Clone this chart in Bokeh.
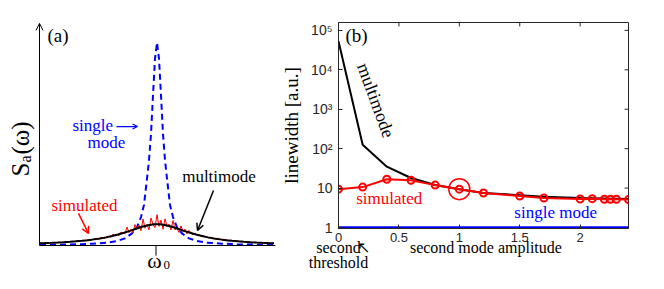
from bokeh.plotting import figure
from bokeh.layouts import row
from bokeh.models import Range1d, Label, Arrow, OpenHead, FixedTicker, LinearAxis
from bokeh.embed import file_html
from bokeh.resources import INLINE

# ---------------- panel (a) data: spectra vs (omega - omega0) ----------------
w_single = [-117, -100, -80, -65, -50, -40, -32, -25, -20, -16, -13, -10, -8, -6, -4, -2, 0,
            2, 4, 6, 8, 10, 13, 16, 20, 25, 32, 40, 50, 65, 80, 100, 117]
s_single = [0.003, 0.004, 0.006, 0.009, 0.014, 0.022, 0.035, 0.06, 0.09, 0.14, 0.20, 0.33, 0.42, 0.55, 0.74, 0.92, 1.0,
            0.92, 0.74, 0.55, 0.42, 0.33, 0.20, 0.14, 0.09, 0.06, 0.035, 0.022, 0.014, 0.009, 0.006, 0.004, 0.003]

w_multi = [-117, -111, -105, -99, -93, -87, -81, -75, -69, -63, -57, -51, -45, -39, -33, -27, -21, -15, -9, -3,
           3, 9, 15, 21, 27, 33, 39, 45, 51, 57, 63, 69, 75, 81, 87, 93, 99, 105, 111, 117]
s_multi = [0.0110, 0.0121, 0.0133, 0.0148, 0.0164, 0.0183, 0.0205, 0.0232, 0.0263, 0.0302, 0.0347, 0.0400,
           0.0465, 0.0539, 0.0625, 0.0722, 0.0823, 0.0920, 0.1000, 0.1044,
           0.1044, 0.1000, 0.0920, 0.0823, 0.0722, 0.0625, 0.0539, 0.0465, 0.0400, 0.0347, 0.0302, 0.0263,
           0.0232, 0.0205, 0.0183, 0.0164, 0.0148, 0.0133, 0.0121, 0.0110]

w_sim = [-117, -114, -111, -108, -105, -102, -99, -96, -93, -90, -87, -84, -81, -78, -75, -72, -69, -66, -63,
         -60, -58, -56, -54, -52, -50, -48, -46, -44, -42, -40, -38, -36, -34, -32, -30, -28, -26, -24, -22,
         -20, -18, -16, -14, -12, -10, -8, -6, -4, -2, 0, 2, 4, 6, 8, 10, 12, 14, 16, 18,
         20, 22, 24, 26, 28, 30, 32, 34, 36, 38, 40, 42, 44, 46, 48, 50, 52, 54, 56, 58, 60,
         63, 66, 69, 72, 75, 78, 81, 84, 87, 90, 93, 96, 99, 102, 105, 108, 111, 114, 117]
s_sim = [0.0115, 0.0108, 0.0130, 0.0119, 0.0141, 0.0128, 0.0160, 0.0146, 0.0172, 0.0160, 0.0199, 0.0181, 0.0222,
         0.0200, 0.0255, 0.0229, 0.0290, 0.0258, 0.0335,
         0.0342, 0.0315, 0.0408, 0.0361, 0.0344, 0.0454, 0.0443, 0.0412, 0.0562, 0.0476, 0.0563, 0.0479, 0.0657,
         0.0609, 0.0586, 0.0907, 0.0635, 0.0797, 0.0633, 0.1032,
         0.0798, 0.1004, 0.0724, 0.1309, 0.0847, 0.1037, 0.0768, 0.1356, 0.1040, 0.0879, 0.1523, 0.0942, 0.1248,
         0.0801, 0.1313, 0.0939, 0.1059, 0.0767, 0.1231, 0.0768,
         0.0857, 0.0645, 0.0965, 0.0679, 0.0811, 0.0571, 0.0748, 0.0602, 0.0521, 0.0618, 0.0494, 0.0536, 0.0436,
         0.0513, 0.0415, 0.0430, 0.0363, 0.0408, 0.0338, 0.0349, 0.0313,
         0.0335, 0.0255, 0.0295, 0.0225, 0.0255, 0.0198, 0.0225, 0.0175, 0.0200, 0.0157, 0.0178, 0.0142, 0.0160,
         0.0128, 0.0145, 0.0117, 0.0130, 0.0106, 0.0118]

# ---------------- panel (b) data: linewidth vs second mode amplitude ----------------
amp_multi = [0, 0.2, 0.4, 0.6, 0.8, 1.0, 1.2, 1.5, 1.7, 2.0, 2.4]
lw_multi = [5.3e4, 126, 35, 18, 12, 9.4, 7.5, 6.6, 6.0, 5.6, 5.3]
amp_sim = [0, 0.2, 0.4, 0.6, 0.8, 1.0, 1.2, 1.5, 1.7, 2.0, 2.1, 2.2, 2.25, 2.3, 2.4]
lw_sim = [9.4, 10.6, 16.8, 15.8, 11.9, 9.4, 7.5, 6.3, 5.6, 5.3, 5.4, 5.2, 5.2, 5.2, 5.1]
amp_single = [0, 2.4]
lw_single = [1.0, 1.0]
highlight_amp = [1.0]
highlight_lw = [9.4]
x_ticks = [0, 0.5, 1, 1.5, 2]
y_ticks = [1, 10, 100, 1000, 10000, 100000]
y_tick_labels = ["1", "10", "10\u00b2", "10\u00b3", "10\u2074", "10\u2075"]
note_ticks = [0, 0.21, 1.22]
note_labels = ["second\nthreshold", "\u2196", "second mode amplitude"]

RED = "#ff0000"
BLUE = "#0000ff"
SERIF = "Liberation Serif"
SANS = "Liberation Sans"
GRAY = "#262626"


def no_align(p):
    try:
        p.frame_align = False
    except Exception:
        pass


def lab(p, x, y, t, size, color="black", align="left", baseline="middle", font=SERIF, angle=0):
    p.add_layout(Label(x=x, y=y, text=t, text_font=font, text_font_size=size, text_color=color,
                       text_align=align, text_baseline=baseline, angle=angle))


# =============== panel (a) ===============
pa = figure(width=277, height=273, output_backend="svg", toolbar_location=None, title=None,
            x_range=Range1d(-156.5, 120.5), y_range=Range1d(-28 / 203, 245 / 203),
            x_axis_location=None, y_axis_location=None, min_border=0)
no_align(pa)
pa.outline_line_color = None
pa.xgrid.visible = False
pa.ygrid.visible = False

pa.line(w_single, s_single, line_color=BLUE, line_width=2, line_dash="6 4")
pa.line(w_sim, s_sim, line_color=RED, line_width=1)
pa.line(w_multi, s_multi, line_color="black", line_width=2)

# axes with arrow
pa.add_layout(Arrow(end=OpenHead(size=7, line_color="black", line_width=1), x_start=-117.5, y_start=0,
                    x_end=-117.5, y_end=1.094, line_color="black", line_width=1))
pa.segment(x0=[-117.5], y0=[0], x1=[118.5], y1=[0], line_color="black", line_width=1)
pa.segment(x0=[-1], y0=[0], x1=[-1], y1=[-0.05], line_color="black", line_width=1)

lab(pa, -2.5, -0.075, "\u03c9", "22px", align="center", baseline="middle")
lab(pa, 6.5, -0.095, "0", "13px", baseline="middle")
lab(pa, -109.5, 1.034, "(a)", "19px")
# rotated S_a(omega)
lab(pa, -136.5, (245 - 176) / 203, "S", "25px", baseline="alphabetic", angle=1.5708)
lab(pa, -131.5, (245 - 162) / 203, "a", "16px", baseline="alphabetic", angle=1.5708)
lab(pa, -136.5, (245 - 154) / 203, "(\u03c9)", "25px", baseline="alphabetic", angle=1.5708)

lab(pa, -84.5, 0.591, "single", "17px", color=BLUE)
lab(pa, -50.5, 0.507, "mode", "17px", color=BLUE, align="center")
pa.add_layout(Arrow(end=OpenHead(size=5, line_color=BLUE, line_width=1.2), x_start=-40.5, y_start=0.586,
                    x_end=-19.5, y_end=0.586, line_color=BLUE, line_width=1.2))
lab(pa, 62, 0.34, "multimode", "17px", align="center")
pa.add_layout(Arrow(end=OpenHead(size=7, line_color="black", line_width=1.5), x_start=56.5, y_start=0.271,
                    x_end=40.5, y_end=0.074, line_color="black", line_width=1.5))
lab(pa, -72.5, 0.197, "simulated", "17px", color=RED, align="center")
pa.add_layout(Arrow(end=OpenHead(size=7, line_color=RED, line_width=1.5), x_start=-78.5, y_start=0.158,
                    x_end=-68.5, y_end=0.059, line_color=RED, line_width=1.5))

# =============== panel (b) ===============
ymin, ymax = 10 ** -0.025, 10 ** 5.2
pb = figure(width=371, height=273, output_backend="svg", toolbar_location=None, y_axis_type="log", title=None,
            x_range=Range1d(0, 2.4), y_range=Range1d(ymin, ymax),
            min_border_left=55, min_border_right=20, min_border_top=22, min_border_bottom=44)
no_align(pb)
pb.outline_line_color = GRAY
pb.xgrid.visible = False
pb.ygrid.visible = False

for ax in (pb.xaxis[0], pb.yaxis[0]):
    ax.major_tick_in = 4
    ax.major_tick_out = 0
    ax.minor_tick_line_color = None
    ax.axis_line_color = GRAY
    ax.major_tick_line_color = GRAY
    ax.major_label_text_font = SANS
    ax.major_label_text_color = GRAY

pb.xaxis.ticker = FixedTicker(ticks=x_ticks)
pb.xaxis.major_label_text_font_size = "13px"
pb.xaxis.major_label_text_line_height = 1.0
pb.xaxis.major_label_standoff = 4
pb.yaxis.ticker = FixedTicker(ticks=y_ticks)
pb.yaxis.major_label_overrides = {t: s for t, s in zip(y_ticks, y_tick_labels)}
pb.yaxis.major_label_text_font_size = "14px"
pb.yaxis.major_label_standoff = 6
pb.yaxis.axis_label = "linewidth [a.u.]"
pb.yaxis.axis_label_text_font = SERIF
pb.yaxis.axis_label_text_font_style = "normal"
pb.yaxis.axis_label_text_font_size = "19px"
pb.yaxis.axis_label_text_color = "black"
pb.yaxis.axis_label_standoff = 6

# second row of texts below the x axis: threshold note, its arrow and the axis title
notes = LinearAxis(ticker=FixedTicker(ticks=note_ticks),
                   major_label_overrides={t: s for t, s in zip(note_ticks, note_labels)},
                   axis_line_color=None, major_tick_line_color=None, minor_tick_line_color=None,
                   major_tick_in=0, major_tick_out=0, major_label_standoff=-6,
                   major_label_text_font=SERIF, major_label_text_font_size="16px",
                   major_label_text_line_height=0.9, major_label_text_color="black")
pb.add_layout(notes, "below")

# inward tick marks on the top and right edges of the box
pb.segment(x0=x_ticks, y0=[ymax] * len(x_ticks), x1=x_ticks, y1=[ymax / 10 ** 0.1] * len(x_ticks),
           line_color=GRAY, line_width=1)
pb.segment(x0=[2.4] * len(y_ticks), y0=y_ticks, x1=[2.4 - 4 / 123] * len(y_ticks), y1=y_ticks,
           line_color=GRAY, line_width=1)

pb.line(amp_single, lw_single, line_color=BLUE, line_width=2.5)
pb.line(amp_multi, lw_multi, line_color="black", line_width=2)
pb.line(amp_sim, lw_sim, line_color=RED, line_width=2)
pb.scatter(amp_sim, lw_sim, size=7, line_color=RED, line_width=2, fill_color=None)
pb.scatter(highlight_amp, highlight_lw, size=21, line_color=RED, line_width=1.5, fill_color=None)


def ly(py):
    return 10 ** ((232 - py) / 40)


def lx(px):
    return (px - 332) / 123


lab(pb, lx(339), ly(37), "(b)", "19px")
lab(pb, lx(370), ly(103), "multimode", "18px", align="center", angle=-1.22)
lab(pb, lx(350), ly(203), "simulated", "17px", color=RED)
lab(pb, lx(511), ly(217), "single mode", "17px", color=BLUE)

layout = row(pa, pb)
open("out.html", "w").write(file_html(layout, INLINE))
